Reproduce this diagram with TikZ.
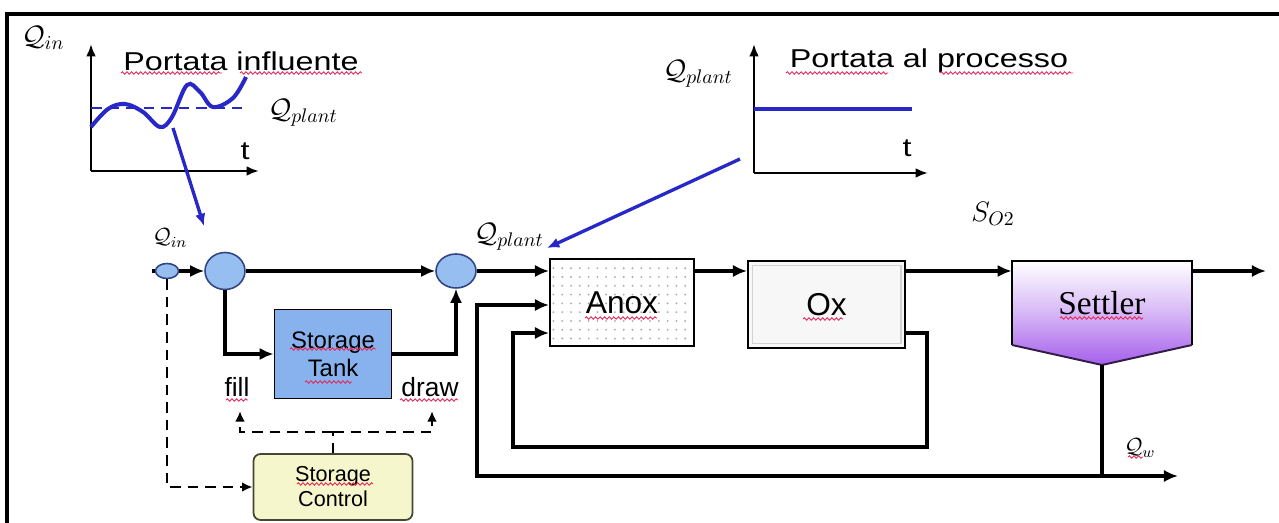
\RequirePackage{fix-cm}
\documentclass[tikz,border=0pt]{standalone}
\usepackage{fontspec}
\setmainfont{Liberation Sans}
\newfontfamily\serifont{Liberation Serif}
\usetikzlibrary{arrows.meta,shapes.geometric,patterns.meta,decorations.pathmorphing,calc}
\newlength\pxu \setlength\pxu{0.02cm}
\definecolor{gblue}{RGB}{40,40,200}
\definecolor{cfill}{RGB}{150,190,240}
\definecolor{cdraw}{RGB}{50,70,130}
\definecolor{tfill}{RGB}{135,178,238}
\definecolor{kfill}{RGB}{246,246,204}
\definecolor{kdraw}{RGB}{70,70,50}
\definecolor{spurple}{RGB}{165,95,235}
\definecolor{wred}{RGB}{230,40,90}
\newcommand\widetext[1]{\scalebox{1.25}[1]{#1}}
\begin{document}
\begin{tikzpicture}[x=0.02cm,y=-0.02cm,
  flow/.style={line width=2.2pt,-{Latex[length=8pt,width=7pt]}},
  pipe/.style={line width=2.2pt},
  dflow/.style={line width=1.3pt,dash pattern=on 6pt off 4pt,-{Latex[length=6pt,width=5.5pt]}},
  dline/.style={line width=1.3pt,dash pattern=on 6pt off 4pt},
  axis/.style={line width=1.3pt,-{Latex[length=7pt,width=5.5pt]}},
  blueline/.style={gblue,line width=2.3pt},
  bluearrow/.style={gblue,line width=1.9pt,-{Latex[length=7pt,width=6pt]}},
  wavy/.style={wred,line width=0.5pt,decorate,decoration={snake,amplitude=0.7pt,segment length=2.6pt}},
  title/.style={inner sep=0pt,font=\fontsize{14.7}{16}\selectfont},
  mlbl/.style={inner sep=0pt,font=\fontsize{16}{18}\selectfont},
  slbl/.style={inner sep=0pt,font=\fontsize{12.5}{14}\selectfont},
  joint/.style={ellipse,draw=cdraw,fill=cfill,line width=0.9pt,inner sep=0pt},
  tankbox/.style={rectangle,draw,fill=tfill,line width=1pt,inner sep=0pt,align=center,
    minimum width=117\pxu,minimum height=89\pxu,font=\fontsize{13.6}{16}\selectfont},
  ctrlbox/.style={rectangle,rounded corners=4pt,draw=kdraw,fill=kfill,line width=1pt,inner sep=0pt,align=center,
    minimum width=159\pxu,minimum height=66\pxu,font=\fontsize{12.3}{14.2}\selectfont},
  unitbox/.style={rectangle,draw,line width=1.1pt,inner sep=0pt,font=\fontsize{18}{20}\selectfont}
]
\useasboundingbox (0,0) rectangle (1279,523);
% frame
\draw[line width=2pt] (7,523) -- (7,14) -- (1279,14);

% ---------- graph 1 ----------
\coordinate (g1o) at (91,171);
\coordinate (g1y) at (91,44);
\coordinate (g1x) at (259,171);
\draw[axis] (g1o) -- (g1y);
\draw[axis] (g1o) -- (g1x);
\draw[gblue,line width=1.6pt,dash pattern=on 6pt off 4pt] (91,108) -- (247,108);
\draw[blueline] plot[smooth,tension=0.6] coordinates {(91,127) (108,109) (125,104) (143,112) (160,127) (172,117) (187,85) (200,92) (213,107) (233,98) (246,77)};
\node[mlbl] (qin1) at (43,38) {$\mathcal{Q}_{in}$};
\node[title] (t1) at (241,61) {\widetext{Portata influente}};
\node[mlbl] (qp1) at (303,113) {$\mathcal{Q}_{plant}$};
\node[title] (tt1) at (245,151) {\widetext{t}};
\draw[wavy] (121,73) -- (222,73);
\draw[wavy] (240,73) -- (362,73);

% ---------- graph 2 ----------
\coordinate (g2o) at (754,173);
\coordinate (g2y) at (754,44);
\coordinate (g2x) at (928,173);
\draw[axis] (g2o) -- (g2y);
\draw[axis] (g2o) -- (g2x);
\coordinate (g2a) at (754,109);
\coordinate (g2b) at (912,109);
\draw[blueline] (g2a) -- (g2b);
\node[mlbl] (qp2) at (698,74) {$\mathcal{Q}_{plant}$};
\node[title] (t2) at (929,61) {\widetext{Portata al processo}};
\node[title] (tt2) at (907,148) {\widetext{t}};
\draw[wavy] (786,73) -- (888,73);
\draw[wavy] (940,73) -- (1073,73);

% ---------- blue pointers ----------
\coordinate (b1s) at (173,128);
\coordinate (b1e) at (204,226);
\draw[bluearrow] (b1s) -- (b1e);
\coordinate (b2s) at (740,159);
\coordinate (b2e) at (547,248);
\draw[bluearrow] (b2s) -- (b2e);

% ---------- storage section ----------
\coordinate (in) at (152,271);
\node[joint,minimum width=23\pxu,minimum height=15\pxu] (c0) at (167,271) {};
\node[joint,minimum width=40\pxu,minimum height=37\pxu] (c1) at (225,271) {};
\node[joint,minimum width=40\pxu,minimum height=34\pxu] (c2) at (456,271) {};
\node[tankbox] (tank) at (333,354) {Storage\\Tank};
\node[ctrlbox] (ctrl) at (333,487) {Storage\\Control};
\draw[pipe] (in) -- (c0.west);
\draw[flow] (c0) -- (c1);
\draw[flow] (c1) -- (c2);
\draw[flow] (c1.south) |- (tank.west);
\draw[flow] (tank.east) -| (c2.south);
\node[slbl] (qin2) at (170,238) {$\mathcal{Q}_{in}$};
\node[inner sep=0pt,font=\fontsize{15}{17}\selectfont] (fill) at (237,387) {fill};
\node[inner sep=0pt,font=\fontsize{15}{17}\selectfont] (drawl) at (430,387) {draw};
\draw[wavy] (226,400) -- (248,400);
\draw[wavy] (400,400) -- (458,400);
\draw[wavy] (290,349) -- (376,349);
\draw[wavy] (305,382) -- (352,382);
\draw[wavy] (297,484) -- (373,484);
% control signals
\draw[dflow] (c0.south) |- (ctrl.west);
\coordinate (dj) at (333,432);
\coordinate (fl) at (240,432);
\coordinate (flt) at (240,411);
\coordinate (dr) at (432,432);
\coordinate (drt) at (432,411);
\draw[dline] (ctrl.north) -- (dj);
\draw[dflow] (dj) -- (fl) -- (flt);
\draw[dflow] (dj) -- (dr) -- (drt);

% ---------- process ----------
\node[unitbox,minimum width=144\pxu,minimum height=87\pxu,fill=white,
  pattern={Dots[distance=5pt,radius=0.6pt]},pattern color=gray!65] (anoxbg) at (622,302.5) {};
\node[unitbox,minimum width=144\pxu,minimum height=87\pxu] (anox) at (622,302.5) {Anox};
\node[unitbox,fill=gray!6,minimum width=157\pxu,minimum height=87\pxu] (ox) at (826.5,304.5) {};
\draw[gray!35,line width=0.6pt] ($(ox.north west)+(5,5)$) rectangle ($(ox.south east)+(-5,-5)$);
\node[inner sep=0pt,font=\fontsize{18}{20}\selectfont] (oxt) at (ox.center) {Ox};
\draw[wavy] (585,318) -- (657,318);
\draw[wavy] (803,319) -- (843,319);

% settler
\shade[top color=white,bottom color=spurple,middle color=white!55!spurple]
  (1012,261) -- (1192,261) -- (1192,345) -- (1102,365) -- (1012,345) -- cycle;
\draw[line width=1.1pt] (1012,345) -- (1012,261) -- (1192,261) -- (1192,345);
\draw[line width=1.1pt,draw=black!70!spurple] (1192,345) -- (1102,365) -- (1012,345);
\node[inner sep=0pt,minimum width=180\pxu,minimum height=84\pxu] (settler) at (1102,303) {};
\node[inner sep=0pt,font=\serifont\fontsize{19}{21}\selectfont] (settlert) at (1102,303) {Settler};
\draw[wavy] (1060,318) -- (1143,318);
\coordinate (sb) at (1102,365);

\coordinate (out) at (1266,271);
\draw[flow] (c2.east) -- (c2.east -| anox.west);
\draw[flow] (anox.east |- c2) -- (ox.west |- c2);
\draw[flow] (ox.east |- c2) -- (settler.west |- c2);
\draw[flow] (settler.east |- c2) -- (out);

% waste and recycle
\coordinate (wj) at (1102,476);
\coordinate (wout) at (1178,476);
\draw[pipe] (sb) -- (wj);
\draw[flow] (wj) -- (wout);
\node[slbl] (qw) at (1140,448) {$\mathcal{Q}_{w}$};
\draw[wavy] (1128,457) -- (1143,457);
\coordinate (ol1) at (477,476);
\coordinate (ol2) at (477,305);
\draw[flow] (wj) -- (ol1) -- (ol2) -- (anox.west |- ol2);
\coordinate (il1) at (927,333);
\coordinate (il2) at (927,447);
\coordinate (il3) at (513,447);
\coordinate (il4) at (513,333);
\draw[flow] (ox.east |- il1) -- (il1) -- (il2) -- (il3) -- (il4) -- (anox.west |- il4);

\node[mlbl] (qp3) at (509,237) {$\mathcal{Q}_{plant}$};
\node[mlbl] (so2) at (993,214) {$S_{O2}$};
\end{tikzpicture}
\end{document}
